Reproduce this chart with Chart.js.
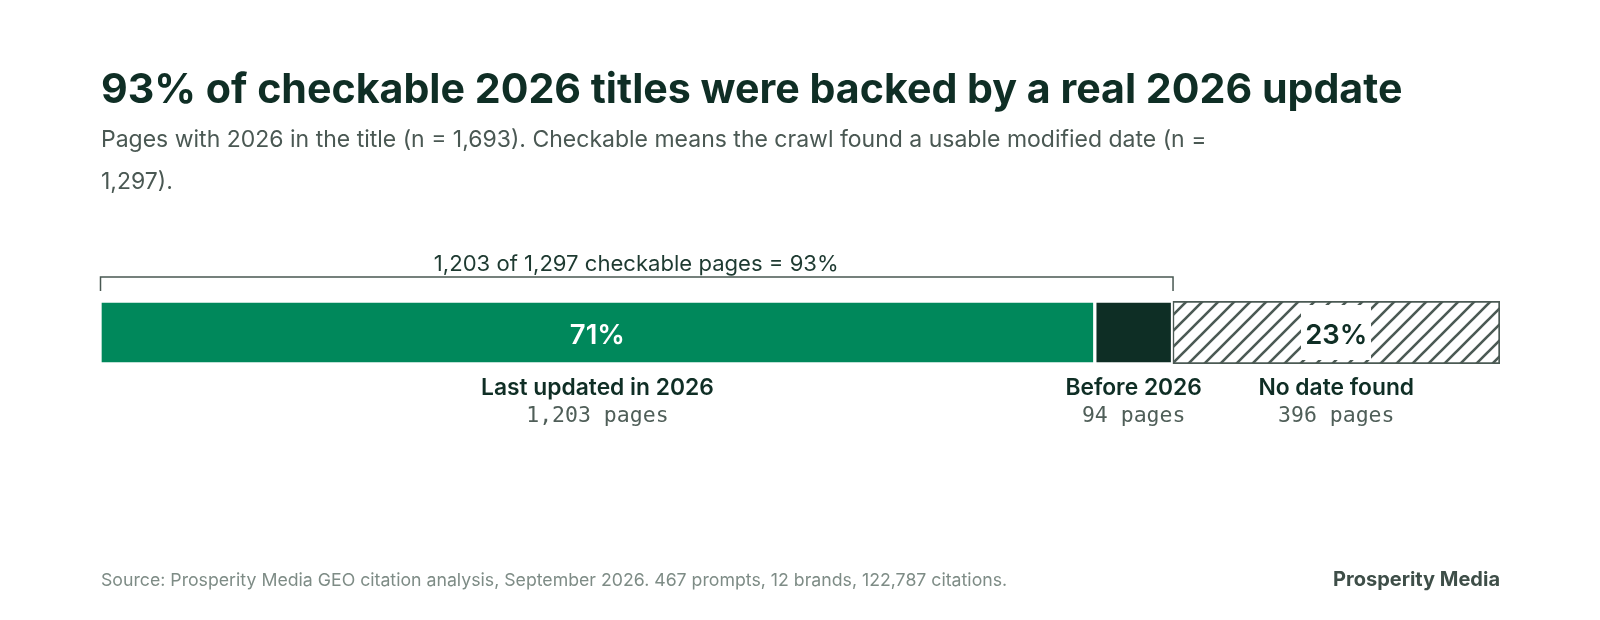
<!DOCTYPE html>
<html>
<head>
<meta charset="utf-8">
<script src="https://cdn.jsdelivr.net/npm/chart.js@4.4.1/dist/chart.umd.min.js"></script>
<style>
  html, body { margin: 0; padding: 0; background: #ffffff; width: 1600px; height: 620px; overflow: hidden; }
  #wrap { position: relative; width: 1600px; height: 620px; }
  #c { position: absolute; left: 0; top: 0; }
  .t { position: absolute; white-space: nowrap; left: 0; top: 0; line-height: 1; }
  .box { position: absolute; background: #ffffff; }
</style>
</head>
<body>
<div id="wrap">
  <canvas id="c" width="1600" height="620"></canvas>
</div>
<script>
// ---------------- data ----------------
const categories   = ['Last updated in 2026', 'Before 2026', 'No date found'];
const pageCounts   = [1203, 94, 396];
const countLabels  = ['1,203 pages', '94 pages', '396 pages'];
const shareLabels  = ['71%', '', '23%'];
const bracketLabel = '1,203 of 1,297 checkable pages = 93%';
const bracketSegments = 2; // first two segments are "checkable"

const titleText = '93% of checkable 2026 titles were backed by a real 2026 update';
const subtitleLines = [
  'Pages with 2026 in the title (n = 1,693). Checkable means the crawl found a usable modified date (n =',
  '1,297).'
];
const sourceText = 'Source: Prosperity Media GEO citation analysis, September 2026. 467 prompts, 12 brands, 122,787 citations.';
const brandText  = 'Prosperity Media';

// ---------------- styles ----------------
const GREEN = '#00885B';
const DARK  = '#0E2E25';
const HATCH = '#4B5A54';
const INK   = '#0F2E25';

function hatchPattern() {
  const s = 16;
  const cv = document.createElement('canvas');
  cv.width = s; cv.height = s;
  const g = cv.getContext('2d');
  g.fillStyle = '#ffffff';
  g.fillRect(0, 0, s, s);
  g.strokeStyle = HATCH;
  g.lineWidth = 2.6;
  g.lineCap = 'square';
  g.beginPath();
  g.moveTo(0, s); g.lineTo(s, 0);
  g.moveTo(-2, 2); g.lineTo(2, -2);
  g.moveTo(s - 2, s + 2); g.lineTo(s + 2, s - 2);
  g.stroke();
  return g.createPattern(cv, 'repeat');
}

const total = pageCounts.reduce((a, b) => a + b, 0);
const starts = pageCounts.map((v, i) => pageCounts.slice(0, i).reduce((a, b) => a + b, 0));

const bracketPlugin = {
  id: 'bracket',
  afterDatasetsDraw(chart) {
    const x = chart.scales.x;
    const top = chart.chartArea.top;
    const x0 = x.getPixelForValue(0);
    const x1 = x.getPixelForValue(starts[bracketSegments]);
    const ctx = chart.ctx;
    ctx.save();
    ctx.strokeStyle = '#485852';
    ctx.lineWidth = 1.5;
    ctx.beginPath();
    ctx.moveTo(x0 + 0.5, top - 10);
    ctx.lineTo(x0 + 0.5, top - 24);
    ctx.lineTo(x1 + 0.5, top - 24);
    ctx.lineTo(x1 + 0.5, top - 10);
    ctx.stroke();
    ctx.restore();
  }
};

const datasets = categories.map((cat, i) => ({
  label: cat,
  data: [pageCounts[i]],
  backgroundColor: i === 0 ? GREEN : (i === 1 ? DARK : hatchPattern()),
  borderColor: i === 2 ? HATCH : '#ffffff',
  borderWidth: 2,
  borderSkipped: false,
  barPercentage: 1,
  categoryPercentage: 1
}));

const chart = new Chart(document.getElementById('c'), {
  type: 'bar',
  data: { labels: ['Pages'], datasets },
  options: {
    indexAxis: 'y',
    responsive: false,
    animation: false,
    devicePixelRatio: 1,
    layout: { padding: { left: 100, right: 100, top: 301, bottom: 256 } },
    scales: {
      x: { stacked: true, min: 0, max: total, display: false },
      y: { stacked: true, display: false }
    },
    plugins: { legend: { display: false }, tooltip: { enabled: false }, title: { display: false } }
  },
  plugins: [bracketPlugin]
});

// ---------------- text (real DOM text) ----------------
const wrap = document.getElementById('wrap');

function placeText(text, o) {
  const d = document.createElement('div');
  d.className = 't';
  d.textContent = text;
  d.style.fontFamily = o.family;
  d.style.fontWeight = o.weight || 400;
  d.style.fontSize = o.size + 'px';
  d.style.color = o.color;
  const m = document.createElement('span');
  m.style.cssText = 'display:inline-block;width:0;height:0;vertical-align:baseline';
  d.appendChild(m);
  wrap.appendChild(d);
  let size = o.size;
  if (o.fitWidth) {
    const w0 = d.getBoundingClientRect().width;
    size = o.size * o.fitWidth / w0;
    d.style.fontSize = size + 'px';
  }
  const r = d.getBoundingClientRect();
  const base = m.getBoundingClientRect().top - r.top;
  let left = o.x;
  if (o.align === 'center') left = o.x - r.width / 2;
  if (o.align === 'right') left = o.x - r.width;
  d.style.left = left + 'px';
  d.style.top = (o.baseline - base) + 'px';
  d.dataset.size = size;
  return d;
}

function layoutText() {
  const SANS = 'Inter, "Open Sans", sans-serif';
  const MONO = '"DejaVu Sans Mono", "Liberation Mono", monospace';
  placeText(titleText, { family: SANS, weight: 700, size: 42, color: INK, x: 101, baseline: 103, fitWidth: 1302 });
  const sub = placeText(subtitleLines[0], { family: SANS, weight: 400, size: 20, color: '#4A5853', x: 101, baseline: 147, fitWidth: 1106 });
  placeText(subtitleLines[1], { family: SANS, weight: 400, size: +sub.dataset.size, color: '#4A5853', x: 101, baseline: 189 });

  const x = chart.scales.x;
  const area = chart.chartArea;
  const midY = (area.top + area.bottom) / 2;

  const bx0 = x.getPixelForValue(0), bx1 = x.getPixelForValue(starts[bracketSegments]);
  placeText(bracketLabel, { family: SANS, weight: 400, size: 20, color: '#1E3A31', x: (bx0 + bx1) / 2, align: 'center', baseline: area.top - 30, fitWidth: 405 });

  // size for category labels derived from the widest one
  const probe = placeText(categories[0], { family: SANS, weight: 600, size: 21, color: INK, x: -2000, baseline: -100, fitWidth: 233 });
  const catSize = +probe.dataset.size;
  probe.remove();

  pageCounts.forEach((v, i) => {
    const cx = x.getPixelForValue(starts[i] + v / 2);
    if (shareLabels[i]) {
      if (i === 2) {
        const b = document.createElement('div');
        b.className = 'box';
        b.style.left = (cx - 35) + 'px';
        b.style.top = (midY - 27.5) + 'px';
        b.style.width = '70px';
        b.style.height = '55px';
        wrap.appendChild(b);
      }
      placeText(shareLabels[i], { family: SANS, weight: 600, size: 27.5, color: i === 0 ? '#ffffff' : INK, x: cx, align: 'center', baseline: midY + 11 });
    }
    placeText(categories[i], { family: SANS, weight: 600, size: catSize, color: INK, x: cx, align: 'center', baseline: area.bottom + 31 });
    placeText(countLabels[i], { family: MONO, weight: 400, size: 21.5, color: '#4F5E58', x: cx, align: 'center', baseline: area.bottom + 58 });
  });

  placeText(sourceText, { family: SANS, weight: 400, size: 18, color: '#7E8C86', x: 101, baseline: 586, fitWidth: 907 });
  placeText(brandText, { family: SANS, weight: 700, size: 20, color: '#3E4E48', x: 1500, align: 'right', baseline: 586, fitWidth: 167 });
}

if (document.fonts && document.fonts.ready) {
  document.fonts.ready.then(layoutText);
} else {
  layoutText();
}
</script>
</body>
</html>
